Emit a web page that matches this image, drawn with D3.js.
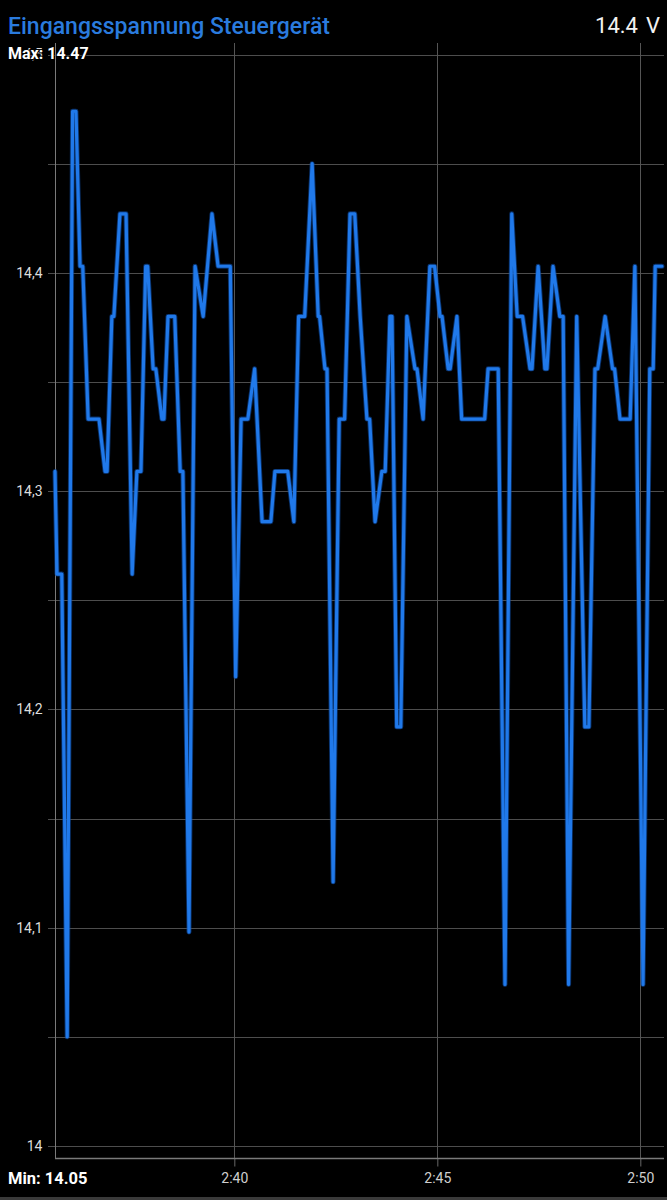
<!DOCTYPE html>
<html>
<head>
<meta charset="utf-8">
<script src="https://cdn.jsdelivr.net/npm/d3@7/dist/d3.min.js"></script>
<style>
  html, body { margin: 0; padding: 0; background: #000; }
  svg { display: block; }
  text { font-family: Roboto, "Noto Sans", sans-serif; }
</style>
</head>
<body>
<svg id="chart" width="667" height="1200"></svg>
<script>
// ---- data ----
const title = "Eingangsspannung Steuergerät";
const currentValue = "14.4";
const unit = "V";
const maxLabel = "Max: 14.47";
const minLabel = "Min: 14.05";

const times = [
  "02:35:35","02:35:38","02:35:45","02:35:53","02:36:01","02:36:06","02:36:12","02:36:16",
  "02:36:24","02:36:40","02:36:49","02:36:52","02:36:59","02:37:02","02:37:11","02:37:20",
  "02:37:29","02:37:36","02:37:42","02:37:49","02:37:52","02:38:00","02:38:04","02:38:13",
  "02:38:16","02:38:22","02:38:32","02:38:40","02:38:44","02:38:53","02:39:02","02:39:14",
  "02:39:27","02:39:36","02:39:54","02:40:02","02:40:10","02:40:20","02:40:30","02:40:41",
  "02:40:54","02:41:00","02:41:19","02:41:28","02:41:35","02:41:44","02:41:55","02:42:04",
  "02:42:06","02:42:14","02:42:17","02:42:26","02:42:35","02:42:43","02:42:51","02:42:58",
  "02:43:06","02:43:16","02:43:20","02:43:28","02:43:38","02:43:43","02:43:50","02:43:53",
  "02:44:00","02:44:06","02:44:15","02:44:27","02:44:30","02:44:39","02:44:49","02:44:56",
  "02:45:04","02:45:07","02:45:16","02:45:19","02:45:29","02:45:36","02:46:10","02:46:15",
  "02:46:30","02:46:40","02:46:50","02:46:58","02:47:06","02:47:17","02:47:20","02:47:29",
  "02:47:39","02:47:42","02:47:51","02:48:01","02:48:06","02:48:14","02:48:26","02:48:38",
  "02:48:44","02:48:53","02:48:57","02:49:08","02:49:19","02:49:22","02:49:30","02:49:45",
  "02:49:52","02:50:04","02:50:14","02:50:19","02:50:22","02:50:32"
];
const voltages = [
  14.309,14.262,14.262,14.050,14.474,14.474,14.403,14.403,
  14.333,14.333,14.309,14.309,14.380,14.380,14.427,14.427,
  14.262,14.309,14.309,14.403,14.403,14.356,14.356,14.333,
  14.333,14.380,14.380,14.309,14.309,14.098,14.403,14.380,
  14.427,14.403,14.403,14.215,14.333,14.333,14.356,14.286,
  14.286,14.309,14.309,14.286,14.380,14.380,14.450,14.380,
  14.380,14.356,14.356,14.121,14.333,14.333,14.427,14.427,
  14.380,14.333,14.333,14.286,14.309,14.309,14.380,14.380,
  14.192,14.192,14.380,14.356,14.356,14.333,14.403,14.403,
  14.380,14.380,14.356,14.356,14.380,14.333,14.333,14.356,
  14.356,14.074,14.427,14.380,14.380,14.356,14.356,14.403,
  14.356,14.356,14.403,14.380,14.380,14.074,14.380,14.192,
  14.192,14.356,14.356,14.380,14.356,14.356,14.333,14.333,
  14.403,14.074,14.356,14.356,14.403,14.403
];
const timeDomain = ["02:35:35", "02:50:35"];
const xTicks = ["02:40:00", "02:45:00", "02:50:00"];
const yMajorTicks = [14, 14.1, 14.2, 14.3, 14.4, 14.5];
const yGridTicks = [14, 14.05, 14.1, 14.15, 14.2, 14.25, 14.3, 14.35, 14.4, 14.45, 14.5];
const yDomain = [14, 14.5];

// ---- layout ----
const parse = d3.timeParse("%H:%M:%S");
const svg = d3.select("#chart");
const left = 55, right = 664, yTop = 54.5, yBottom = 1146;
const axisY = 1158, gridTop = 43;

const x = d3.scaleTime().domain(timeDomain.map(parse)).range([left, right]);
const y = d3.scaleLinear().domain(yDomain).range([yBottom, yTop]);

svg.append("rect").attr("width", 667).attr("height", 1200).attr("fill", "#000");

// horizontal grid
svg.append("g").selectAll("line").data(yGridTicks).join("line")
  .attr("x1", left - 7).attr("x2", right)
  .attr("y1", d => Math.round(y(d)) + 0.5).attr("y2", d => Math.round(y(d)) + 0.5)
  .attr("stroke", "#4d4d4d").attr("stroke-width", 1);

// vertical grid
svg.append("g").selectAll("line").data(xTicks.map(parse)).join("line")
  .attr("x1", d => Math.round(x(d)) + 0.5).attr("x2", d => Math.round(x(d)) + 0.5)
  .attr("y1", gridTop).attr("y2", axisY)
  .attr("stroke", "#555").attr("stroke-width", 1);

// y axis
const yAxis = d3.axisLeft(y).tickValues(yMajorTicks).tickSize(0).tickPadding(13)
  .tickFormat(d => d3.format(".1f")(d).replace(/\.0$/, "").replace(".", ","));
const gy = svg.append("g").attr("transform", `translate(${left + 0.5},0)`).call(yAxis);
gy.select(".domain").remove();
gy.selectAll("text").attr("fill", "#dcdcdc").attr("font-size", 14).attr("font-family", "Roboto");
svg.append("line").attr("x1", left + 0.5).attr("x2", left + 0.5)
  .attr("y1", gridTop).attr("y2", axisY).attr("stroke", "#7a7a7a");

// x axis
const xAxis = d3.axisBottom(x).tickValues(xTicks.map(parse)).tickSize(8).tickPadding(7)
  .tickFormat(d3.timeFormat("%-H:%M"));
const gx = svg.append("g").attr("transform", `translate(0,${axisY + 0.5})`).call(xAxis);
gx.select(".domain").remove();
gx.selectAll(".tick line").attr("stroke", "#666");
gx.selectAll("text").attr("fill", "#cfcfcf").attr("font-size", 14).attr("font-family", "Roboto");
svg.append("line").attr("x1", left).attr("x2", right)
  .attr("y1", axisY + 0.5).attr("y2", axisY + 0.5).attr("stroke", "#7a7a7a").attr("stroke-width", 1.5);

// data line
const data = times.map((t, i) => ({ t: parse(t), v: voltages[i] }));
const line = d3.line().x(d => x(d.t)).y(d => y(d.v));
svg.append("path").datum(data).attr("d", line)
  .attr("fill", "none").attr("stroke", "#0f4fa8").attr("stroke-width", 5)
  .attr("stroke-linejoin", "round").attr("stroke-linecap", "round").attr("opacity", 0.6);
svg.append("path").datum(data).attr("d", line)
  .attr("fill", "none").attr("stroke", "#2079ea").attr("stroke-width", 3.2)
  .attr("stroke-linejoin", "round").attr("stroke-linecap", "round");

// texts
svg.append("text").attr("x", 8).attr("y", 34).attr("fill", "#2a7bde")
  .attr("font-size", 23).attr("font-weight", 500).text(title);
svg.append("text").attr("x", 638).attr("y", 33).attr("text-anchor", "end")
  .attr("fill", "#f2f2f2").attr("font-size", 22).text(currentValue);
svg.append("text").attr("x", 660).attr("y", 33).attr("text-anchor", "end")
  .attr("fill", "#f2f2f2").attr("font-size", 22).text(unit);
svg.append("text").attr("x", 8).attr("y", 58.5).attr("fill", "#fff")
  .attr("font-size", 16).attr("font-weight", "bold")
  .attr("stroke", "#000").attr("stroke-width", 2).attr("paint-order", "stroke")
  .text(maxLabel);
svg.append("text").attr("x", 8).attr("y", 1184).attr("fill", "#fff")
  .attr("font-size", 16.5).attr("font-weight", "bold").text(minLabel);

svg.append("rect").attr("x", 0).attr("y", 1197).attr("width", 667).attr("height", 3).attr("fill", "#3a3a3a");
</script>
</body>
</html>
